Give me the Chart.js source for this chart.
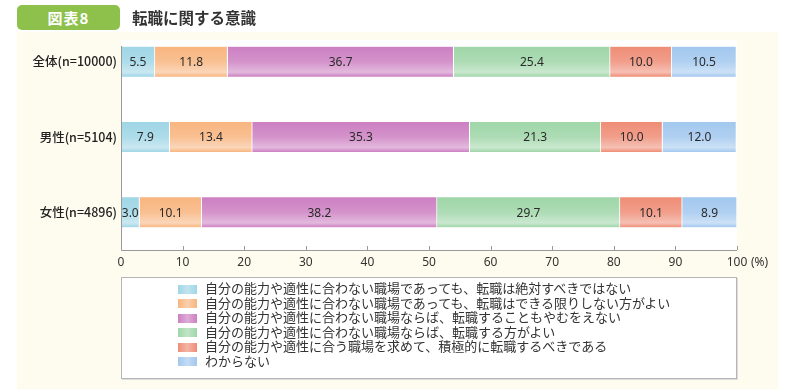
<!DOCTYPE html>
<html lang="ja">
<head>
<meta charset="utf-8">
<script src="https://cdn.jsdelivr.net/npm/chart.js@4"></script>
<style>
  body { margin: 0; width: 800px; height: 389px; background: #fff; position: relative; overflow: hidden;
         font-family: "Noto Sans CJK JP", "Noto Sans", sans-serif; }
  .panel { position: absolute; left: 17px; top: 32px; width: 761px; height: 357px; background: #fefcee; }
  .chartBox { position: absolute; left: 0; top: 0; width: 800px; height: 389px; }
  .badge { position: absolute; left: 17px; top: 5px; width: 103px; height: 25px; border-radius: 5px;
           background: #8dc14c; color: #fff; font-weight: bold; font-size: 15px; line-height: 25px;
           text-align: center; letter-spacing: 1px; }
  .title { position: absolute; left: 132px; top: 5px; font-weight: bold; font-size: 15.5px; line-height: 25px; color: #333; }
  .legend { position: absolute; left: 121px; top: 277px; width: 616px; height: 102px; box-sizing: border-box;
            border: 1px solid #b5b5b5; box-shadow: 1px 1px 0 #ddd; background: #fff; padding: 3px 0 0 56px; }
  .legend div { font-size: 13px; line-height: 14.6px; height: 14.6px; color: #333; white-space: nowrap; }
  .legend span { display: inline-block; width: 19px; height: 9px; margin-right: 8px; vertical-align: -0.5px; }
</style>
</head>
<body>
<div class="panel"></div>
<div class="chartBox"><canvas id="chart" width="800" height="389"></canvas></div>
<div class="badge">図表8</div>
<div class="title">転職に関する意識</div>
<div class="legend" id="legend"></div>

<script>
const categories = ['全体(n=10000)', '男性(n=5104)', '女性(n=4896)'];

const seriesLabels = [
    '自分の能力や適性に合わない職場であっても、転職は絶対すべきではない',
    '自分の能力や適性に合わない職場であっても、転職はできる限りしない方がよい',
    '自分の能力や適性に合わない職場ならば、転職することもやむをえない',
    '自分の能力や適性に合わない職場ならば、転職する方がよい',
    '自分の能力や適性に合う職場を求めて、積極的に転職するべきである',
    'わからない'
];

const absolutelyNot = [5.5, 7.9, 3.0];
const avoidIfPossible = [11.8, 13.4, 10.1];
const unavoidable = [36.7, 35.3, 38.2];
const betterToChange = [25.4, 21.3, 29.7];
const activelyChange = [10.0, 10.0, 10.1];
const dontKnow = [10.5, 12.0, 8.9];

const seriesValues = [absolutelyNot, avoidIfPossible, unavoidable, betterToChange, activelyChange, dontKnow];
const seriesColors = ['#9fd6e6', '#f8b57f', '#cc80c2', '#9fd6a8', '#ef8d76', '#a2c8ee'];

const xTicks = [0, 10, 20, 30, 40, 50, 60, 70, 80, 90, 100];

function lighten(hex, amt) {
    const n = parseInt(hex.slice(1), 16);
    const r = (n >> 16) & 255, g = (n >> 8) & 255, b = n & 255;
    const f = c => Math.round(c + (255 - c) * amt);
    return 'rgb(' + f(r) + ',' + f(g) + ',' + f(b) + ')';
}

function barFill(color) {
    return function (context) {
        const chart = context.chart;
        const yScale = chart.scales.y;
        if (!chart.chartArea || !yScale) {
            return color;
        }
        const mid = yScale.getPixelForValue(context.dataIndex);
        const top = mid - 15, bottom = mid + 15;
        const grad = chart.ctx.createLinearGradient(0, top, 0, bottom);
        grad.addColorStop(0, color);
        grad.addColorStop(0.5, lighten(color, 0.15));
        grad.addColorStop(0.85, lighten(color, 0.45));
        grad.addColorStop(1, color);
        return grad;
    };
}

// white plot area, axes, ticks and value labels
const decorPlugin = {
    id: 'decor',
    beforeDraw(chart) {
        const ctx = chart.ctx;
        const area = chart.chartArea;
        ctx.save();
        ctx.fillStyle = '#ffffff';
        ctx.fillRect(area.left, 40, area.right - area.left, area.bottom - 40);
        ctx.restore();
    },
    afterDraw(chart) {
        const ctx = chart.ctx;
        const area = chart.chartArea;
        const x = chart.scales.x;
        ctx.save();
        ctx.strokeStyle = '#9a9a9a';
        ctx.lineWidth = 1;
        ctx.beginPath();
        ctx.moveTo(area.left + 0.5, 46);
        ctx.lineTo(area.left + 0.5, area.bottom + 0.5);
        ctx.lineTo(area.right, area.bottom + 0.5);
        xTicks.forEach(v => {
            const px = Math.round(x.getPixelForValue(v)) + 0.5;
            ctx.moveTo(px, area.bottom);
            ctx.lineTo(px, area.bottom - 4);
        });
        ctx.stroke();

        ctx.fillStyle = '#333';
        ctx.font = '12px "Noto Sans", sans-serif';
        ctx.textBaseline = 'middle';
        ctx.textAlign = 'left';
        ctx.fillText('(%)', x.getPixelForValue(100) + 14, area.bottom + 13);

        ctx.textAlign = 'center';
        ctx.fillStyle = '#2a2a2a';
        ctx.font = '12px "Noto Sans", sans-serif';
        chart.data.datasets.forEach((ds, di) => {
            chart.getDatasetMeta(di).data.forEach((bar, i) => {
                const p = bar.getProps(['x', 'base', 'y'], true);
                ctx.fillText(ds.data[i].toFixed(1), (p.x + p.base) / 2, p.y + 1);
            });
        });
        ctx.restore();
    }
};

new Chart(document.getElementById('chart'), {
    type: 'bar',
    data: {
        labels: categories,
        datasets: seriesValues.map((vals, i) => ({
            label: seriesLabels[i],
            data: vals,
            backgroundColor: barFill(seriesColors[i]),
            borderColor: '#ffffff',
            borderWidth: { left: 0, right: 1, top: 0, bottom: 0 },
            borderSkipped: false,
            barThickness: 30
        }))
    },
    options: {
        indexAxis: 'y',
        responsive: false,
        animation: false,
        layout: { padding: { top: 24, right: 63, bottom: 119, left: 0 } },
        plugins: {
            legend: { display: false },
            tooltip: { enabled: false }
        },
        scales: {
            x: {
                stacked: true,
                min: 0,
                max: 100,
                afterBuildTicks: scale => { scale.ticks = xTicks.map(v => ({ value: v })); },
                afterFit: scale => { scale.height = 20; },
                grid: { display: false, drawTicks: false },
                border: { display: false },
                ticks: {
                    padding: 5,
                    color: '#333',
                    font: { size: 12, family: '"Noto Sans", sans-serif' },
                    maxRotation: 0
                }
            },
            y: {
                stacked: true,
                afterFit: scale => { scale.width = 121; },
                grid: { display: false, drawTicks: false },
                border: { display: false },
                ticks: {
                    padding: 4,
                    color: '#222',
                    font: { size: 12.5, weight: 500, family: '"Noto Sans CJK JP", sans-serif' }
                }
            }
        }
    },
    plugins: [decorPlugin]
});

const legend = document.getElementById('legend');
seriesLabels.forEach((label, i) => {
    const row = document.createElement('div');
    const sw = document.createElement('span');
    sw.style.background = 'linear-gradient(to right, ' + seriesColors[i] + ', ' + lighten(seriesColors[i], 0.35) + ', ' + seriesColors[i] + ')';
    row.appendChild(sw);
    row.appendChild(document.createTextNode(label));
    legend.appendChild(row);
});
</script>
</body>
</html>
